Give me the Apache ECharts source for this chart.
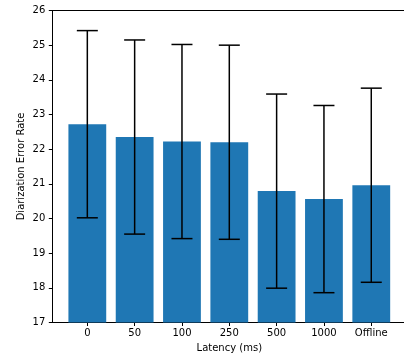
<!DOCTYPE html>
<html><head><meta charset="utf-8">
<script src="https://cdn.jsdelivr.net/npm/echarts@6/dist/echarts.min.js"></script>
<style>html,body{margin:0;padding:0;background:#fff}#c{width:404px;height:356px}</style>
</head><body><div id="c"></div>
<script>
var categories = ['0', '50', '100', '250', '500', '1000', 'Offline'];
var meanDER = [22.72, 22.35, 22.22, 22.2, 20.79, 20.56, 20.96];
var errDER = [2.7, 2.8, 2.8, 2.8, 2.8, 2.7, 2.8];
var yTicks = [17, 18, 19, 20, 21, 22, 23, 24, 25, 26];

var barData = meanDER.map(function (v, i) { return [i, v]; });
var errData = meanDER.map(function (v, i) { return [i, v - errDER[i], v + errDER[i]]; });
var font = 'DejaVu Sans';
var chart = echarts.init(document.getElementById('c'), null, {renderer: 'canvas'});
chart.setOption({
  animation: false,
  grid: {left: 52.3, right: -2.3, top: 10.5, bottom: 33.5, show: false,
    containLabel: false, outerBoundsMode: 'none'},
  xAxis: [{
    type: 'value', min: -0.74, max: 6.74,
    name: 'Latency (ms)', nameLocation: 'middle', nameGap: 21, nameMoveOverlap: false,
    nameTextStyle: {fontFamily: font, fontSize: 10, color: '#000'},
    axisLine: {show: true, onZero: false, lineStyle: {color: '#000', width: 1}},
    axisTick: {show: true, length: 3.5, lineStyle: {color: '#000'}, customValues: [0,1,2,3,4,5,6]},
    axisLabel: {fontFamily: font, fontSize: 10, color: '#000', margin: 5.5, customValues: [0,1,2,3,4,5,6],
      formatter: function (v) { return categories[Math.round(v)]; }},
    splitLine: {show: false}
  }, {
    type: 'value', position: 'top', min: -0.74, max: 6.74,
    axisLine: {show: true, onZero: false, lineStyle: {color: '#000', width: 1}},
    axisTick: {show: false}, axisLabel: {show: false}, splitLine: {show: false}
  }],
  yAxis: {
    type: 'value', min: yTicks[0], max: yTicks[yTicks.length - 1], interval: 1,
    name: 'Diarization Error Rate', nameLocation: 'middle', nameGap: 26, nameMoveOverlap: false,
    nameTextStyle: {fontFamily: font, fontSize: 10, color: '#000'},
    axisLine: {show: true, onZero: false, lineStyle: {color: '#000', width: 1}},
    axisTick: {show: true, length: 3.5, lineStyle: {color: '#000'}},
    axisLabel: {fontFamily: font, fontSize: 10, color: '#000', margin: 7},
    splitLine: {show: false}
  },
  series: [{
    type: 'bar', data: barData, barWidth: 37.8, itemStyle: {color: '#1f77b4'}, clip: true
  }, {
    type: 'custom', data: errData, z: 10,
    encode: {x: 0, y: [1, 2]},
    renderItem: function (params, api) {
      var x = api.value(0);
      var lo = api.coord([x, api.value(1)]);
      var hi = api.coord([x, api.value(2)]);
      var hw = 10.5;
      var st = {stroke: '#000', lineWidth: 1.5};
      return {type: 'group', children: [
        {type: 'line', shape: {x1: lo[0], y1: lo[1], x2: hi[0], y2: hi[1]}, style: st},
        {type: 'line', shape: {x1: lo[0] - hw, y1: lo[1], x2: lo[0] + hw, y2: lo[1]}, style: st},
        {type: 'line', shape: {x1: hi[0] - hw, y1: hi[1], x2: hi[0] + hw, y2: hi[1]}, style: st}
      ]};
    }
  }]
});
</script></body></html>
